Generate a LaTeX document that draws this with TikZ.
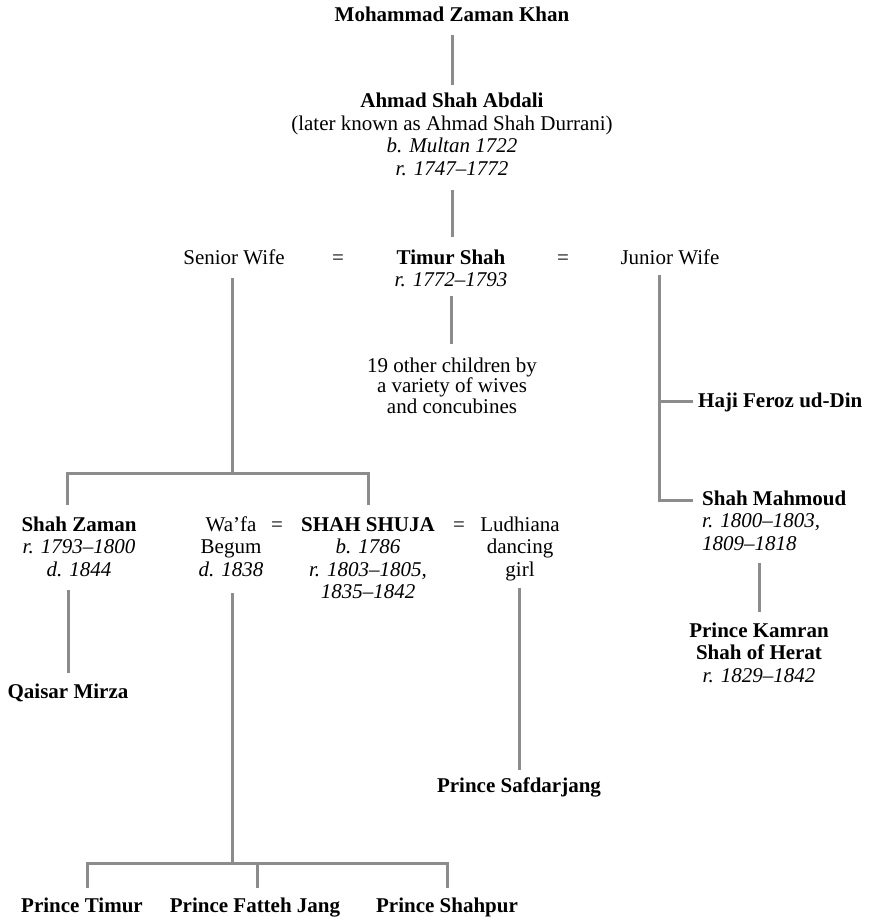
\documentclass[tikz,border=0pt]{standalone}
\usepackage{fontspec}
\setmainfont{Liberation Serif}
\definecolor{linegray}{RGB}{140,140,140}
\tikzset{
  conn/.style={draw=linegray, line width=3pt},
  person/.style={anchor=base, inner sep=0pt, align=center, font=\fontsize{21}{22.5}\selectfont},
  personl/.style={anchor=base west, inner sep=0pt, align=left, font=\fontsize{21}{22.5}\selectfont},
  eqsign/.style={anchor=base, inner sep=0pt, font=\fontsize{21}{22.5}\selectfont},
}
\begin{document}
\begin{tikzpicture}[x=1pt,y=-1pt]
\useasboundingbox (0,0) rectangle (878,917);
% nodes (multi-line nodes are placed by the baseline of their last line)
\node[person] (mzk) at (452,22) {\textbf{Mohammad Zaman Khan}};
\node[person] (asa) at (452,175.5) {\textbf{Ahmad Shah Abdali}\\(later known as Ahmad Shah Durrani)\\\textit{b. Multan 1722}\\\textit{r. 1747–1772}};
\node[person] (sw) at (234,264) {Senior Wife};
\node[eqsign] (eq1) at (338,264) {=};
\node[person] (ts) at (451,286.5) {\textbf{Timur Shah}\\\textit{r. 1772–1793}};
\node[eqsign] (eq2) at (563,264) {=};
\node[person] (jw) at (670,264) {Junior Wife};
\node[person, font=\fontsize{21}{20.5}\selectfont] (oc) at (452,413) {19 other children by\\a variety of wives\\and concubines};
\node[personl] (hfd) at (698,407) {\textbf{Haji Feroz ud-Din}};
\node[personl] (sm) at (702,550) {\textbf{Shah Mahmoud}\\\textit{r. 1800–1803,}\\\textit{1809–1818}};
\node[person] (pk) at (759,682) {\textbf{Prince Kamran}\\\textbf{Shah of Herat}\\\textit{r. 1829–1842}};
\node[person] (sz) at (79,576) {\textbf{Shah Zaman}\\\textit{r. 1793–1800}\\\textit{d. 1844}};
\node[person] (wb) at (231,576) {Wa’fa\\Begum\\\textit{d. 1838}};
\node[eqsign] (eq3) at (277,531) {=};
\node[person] (ss) at (368,598.5) {\textbf{SHAH SHUJA}\\\textit{b. 1786}\\\textit{r. 1803–1805,}\\\textit{1835–1842}};
\node[eqsign] (eq4) at (459,531) {=};
\node[person] (ldg) at (520,576) {Ludhiana\\dancing\\girl};
\node[person] (qm) at (68,698) {\textbf{Qaisar Mirza}};
\node[person] (psd) at (519,792) {\textbf{Prince Safdarjang}};
\node[person] (pt) at (82,912) {\textbf{Prince Timur}};
\node[person] (pfj) at (255,912) {\textbf{Prince Fatteh Jang}};
\node[person] (psh) at (447,912) {\textbf{Prince Shahpur}};
% junction coordinates
\coordinate (c1a) at (452,35);  \coordinate (c1b) at (452,85);
\coordinate (c2a) at (452,190); \coordinate (c2b) at (452,237);
\coordinate (swa) at (232,278); \coordinate (swj) at (232,473);
\coordinate (szd) at (67,505);  \coordinate (ssd) at (368,505);
\coordinate (tsa) at (451,296); \coordinate (tsb) at (451,344);
\coordinate (jwa) at (659,275); \coordinate (jwh) at (659,401); \coordinate (jwm) at (659,500);
\coordinate (hfe) at (693,401); \coordinate (sme) at (693,500);
\coordinate (pka) at (759,563); \coordinate (pkb) at (759,612);
\coordinate (qma) at (68,590);  \coordinate (qmb) at (68,673);
\coordinate (wba) at (232,593); \coordinate (wbj) at (232,863);
\coordinate (ptd) at (87,888);  \coordinate (pfd) at (257,888); \coordinate (pfj0) at (257,863); \coordinate (psd0) at (447,888);
\coordinate (lda) at (519,588); \coordinate (ldb) at (519,770);
% connectors
\draw[conn] (c1a) -- (c1b);
\draw[conn] (c2a) -- (c2b);
\draw[conn] (swa) -- (swj);
\draw[conn] (szd) |- (swj) -| (ssd);
\draw[conn] (tsa) -- (tsb);
\draw[conn] (jwa) -- (jwm) -- (sme);
\draw[conn] (jwh) -- (hfe);
\draw[conn] (pka) -- (pkb);
\draw[conn] (qma) -- (qmb);
\draw[conn] (wba) -- (wbj);
\draw[conn] (ptd) |- (wbj) -| (psd0);
\draw[conn] (pfj0) -- (pfd);
\draw[conn] (lda) -- (ldb);
\end{tikzpicture}
\end{document}
